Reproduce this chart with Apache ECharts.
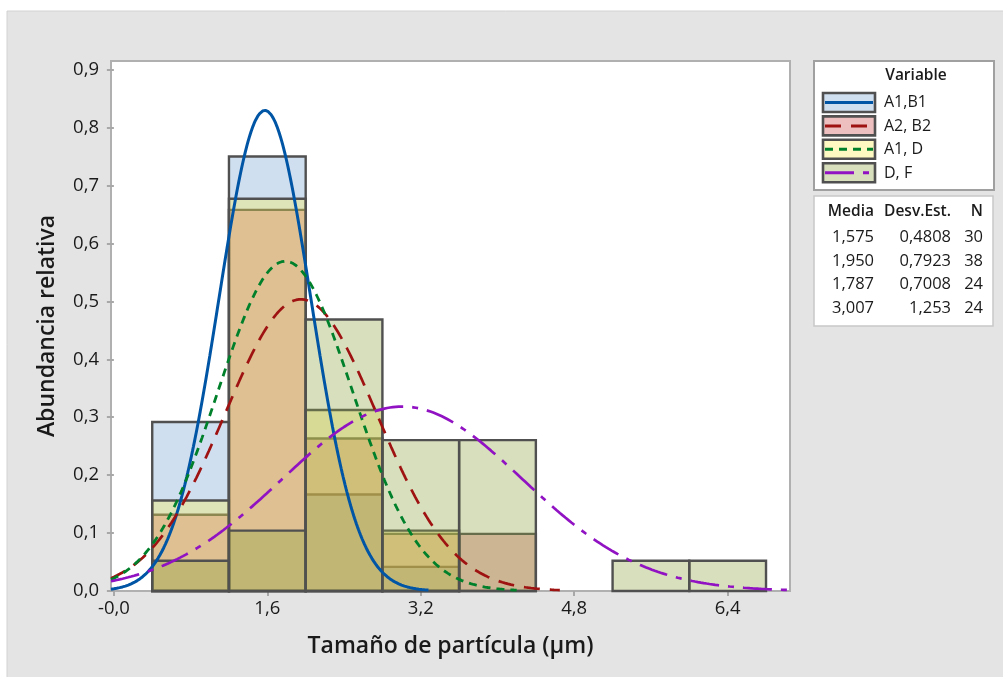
<!DOCTYPE html>
<html>
<head>
<meta charset="utf-8">
<script src="https://cdn.jsdelivr.net/npm/echarts@6.0.0/dist/echarts.min.js"></script>
<style>
html, body { margin: 0; padding: 0; background: #fff; }
#chart { width: 1003px; height: 677px; }
</style>
</head>
<body>
<div id="chart"></div>
<script>
// clases del histograma (centro), ancho 0,8
var binCenters = [0.8, 1.6, 2.4, 3.2, 4.0, 4.8, 5.6, 6.4];
var binWidth = 0.8;

// alturas de las barras (abundancia relativa) por variable
var seriesNames = ['A1,B1', 'A2, B2', 'A1, D', 'D, F'];
var heightsA1B1 = [0.2917, 0.75, 0.1667, 0.0417, 0, 0, 0, 0];
var heightsA2B2 = [0.1316, 0.6579, 0.2632, 0.0987, 0.0987, 0, 0, 0];
var heightsA1D = [0.1563, 0.6771, 0.3125, 0.1042, 0, 0, 0, 0];
var heightsDF = [0.0521, 0.1042, 0.4688, 0.2604, 0.2604, 0, 0.0521, 0.0521];

// tabla de estadisticos
var mediaLabels = ['1,575', '1,950', '1,787', '3,007'];
var desvLabels = ['0,4808', '0,7923', '0,7008', '1,253'];
var nLabels = ['30', '38', '24', '24'];

// ejes
var xTicks = [0, 1.6, 3.2, 4.8, 6.4];
var xTickLabels = ['-0,0', '1,6', '3,2', '4,8', '6,4'];
var xMin = -0.03, xMax = 7.05;

var fills = ['rgba(121,164,212,0.35)', 'rgba(204,72,72,0.35)', 'rgba(252,235,81,0.35)', 'rgba(144,164,64,0.35)'];
var lineColors = ['#0055a5', '#9e1212', '#00802a', '#9012c2'];
var lineDash = ['solid', [16, 10], [8, 6], [29, 9, 6, 9]];
var lineWidths = [3, 2.7, 2.8, 2.7];

var FONT = '"Open Sans", "Noto Sans", sans-serif';

function num(s) {
    return parseFloat(s.replace(',', '.'));
}

// curva normal ajustada con la media y desv. est. de la tabla
function normalCurve(media, desv) {
    var pts = [];
    for (var k = 0; k <= 708; k++) {
        var x = xMin + k * 0.01;
        var z = (x - media) / desv;
        var y = Math.exp(-0.5 * z * z) / (desv * Math.sqrt(2 * Math.PI));
        if (y >= 0.0015) pts.push([x, y]);
    }
    return pts;
}

function barData(heights) {
    var out = [];
    for (var i = 0; i < binCenters.length; i++) {
        if (heights[i] > 0) {
            out.push([binCenters[i] - binWidth / 2, binCenters[i] + binWidth / 2, heights[i]]);
        }
    }
    return out;
}

var allHeights = [heightsA1B1, heightsA2B2, heightsA1D, heightsDF];
var series = [];

allHeights.forEach(function (h, idx) {
    series.push({
        name: seriesNames[idx],
        type: 'custom',
        z: 2,
        data: barData(h),
        renderItem: function (params, api) {
            var p0 = api.coord([api.value(0), api.value(2)]);
            var p1 = api.coord([api.value(1), 0]);
            return {
                type: 'rect',
                shape: {x: p0[0], y: p0[1], width: p1[0] - p0[0], height: p1[1] - p0[1]},
                style: {fill: fills[idx], stroke: '#505050', lineWidth: 2.4}
            };
        }
    });
});

seriesNames.forEach(function (name, idx) {
    series.push({
        name: name + ' ajuste',
        type: 'line',
        z: 3,
        showSymbol: false,
        smooth: false,
        data: normalCurve(num(mediaLabels[idx]), num(desvLabels[idx])),
        lineStyle: {color: lineColors[idx], width: lineWidths[idx], type: lineDash[idx]}
    });
});

// leyenda y tabla como graficos
var graphics = [
    {type: 'rect', z: -100, shape: {x: 7, y: 11, width: 1000, height: 670},
        style: {fill: '#e4e4e4', stroke: '#d2d2d2', lineWidth: 1}},
    {type: 'rect', z: 10, shape: {x: 814, y: 61, width: 180, height: 129},
        style: {fill: '#ffffff', stroke: '#a0a0a0', lineWidth: 2}},
    {type: 'rect', z: 10, shape: {x: 814, y: 196, width: 179, height: 130},
        style: {fill: '#ffffff', stroke: '#c8c8c8', lineWidth: 1.5}},
    {type: 'text', z: 11, style: {text: 'Variable', x: 916, y: 76, font: '600 15.5px ' + FONT,
        fill: '#1a1a1a', align: 'center', textAlign: 'center', verticalAlign: 'middle', textVerticalAlign: 'middle'}}
];

seriesNames.forEach(function (name, idx) {
    var top = 93 + idx * 23.4;
    graphics.push({type: 'rect', z: 11, shape: {x: 823, y: top, width: 52, height: 19},
        style: {fill: '#ffffff', stroke: 'none'}});
    graphics.push({type: 'rect', z: 11, shape: {x: 823, y: top, width: 52, height: 19},
        style: {fill: fills[idx], stroke: '#505050', lineWidth: 2.6}});
    graphics.push({type: 'line', z: 12, shape: {x1: 825, y1: top + 9.5, x2: 873, y2: top + 9.5},
        style: {stroke: lineColors[idx], lineWidth: 3, lineDash: lineDash[idx] === 'solid' ? null : lineDash[idx]}});
    graphics.push({type: 'text', z: 12, style: {text: name, x: 884, y: top + 9.8, font: '16px ' + FONT,
        fill: '#1a1a1a', align: 'left', textAlign: 'left', verticalAlign: 'middle', textVerticalAlign: 'middle'}});
});

var cols = [{x: 874, labels: mediaLabels, head: 'Media'},
            {x: 951, labels: desvLabels, head: 'Desv.Est.'},
            {x: 983, labels: nLabels, head: 'N'}];
cols.forEach(function (c) {
    graphics.push({type: 'text', z: 12, style: {text: c.head, x: c.x, y: 212, font: '600 15.5px ' + FONT,
        fill: '#1a1a1a', align: 'right', textAlign: 'right', verticalAlign: 'middle', textVerticalAlign: 'middle'}});
    c.labels.forEach(function (t, r) {
        graphics.push({type: 'text', z: 12, style: {text: t, x: c.x, y: 237 + r * 23.8, font: '16.5px ' + FONT,
            fill: '#1a1a1a', align: 'right', textAlign: 'right', verticalAlign: 'middle', textVerticalAlign: 'middle'}});
    });
});

var option = {
    backgroundColor: '#ffffff',
    animation: false,
    grid: {
        show: true,
        left: 111,
        top: 61,
        width: 679,
        height: 530,
        backgroundColor: '#ffffff',
        borderColor: '#b0b0b0',
        borderWidth: 2
    },
    xAxis: {
        type: 'value',
        min: xMin,
        max: xMax,
        name: 'Tamaño de partícula (µm)',
        nameLocation: 'middle',
        nameGap: 44,
        nameTextStyle: {fontFamily: FONT, fontSize: 23, fontWeight: 600, color: '#1a1a1a'},
        axisLine: {show: false},
        splitLine: {show: false},
        axisTick: {show: true, customValues: xTicks, length: 5, lineStyle: {color: '#a8a8a8', width: 2}},
        axisLabel: {
            customValues: xTicks,
            margin: 8,
            fontFamily: FONT,
            fontSize: 18.5,
            color: '#1a1a1a',
            formatter: function (v) {
                var i = xTicks.indexOf(v);
                return i >= 0 ? xTickLabels[i] : '';
            }
        }
    },
    yAxis: {
        type: 'value',
        min: 0,
        max: 0.915,
        interval: 0.1,
        name: 'Abundancia relativa',
        nameLocation: 'middle',
        nameGap: 52,
        nameTextStyle: {fontFamily: FONT, fontSize: 23, fontWeight: 600, color: '#1a1a1a'},
        axisLine: {show: false},
        splitLine: {show: false},
        axisTick: {show: true, length: 7, lineStyle: {color: '#a8a8a8', width: 2}},
        axisLabel: {
            margin: 12,
            fontFamily: FONT,
            fontSize: 18.5,
            color: '#1a1a1a',
            showMaxLabel: false,
            formatter: function (v) {
                return v.toFixed(1).replace('.', ',');
            }
        }
    },
    graphic: {elements: graphics},
    series: series
};

var chart = echarts.init(document.getElementById('chart'));
chart.setOption(option);
</script>
</body>
</html>
